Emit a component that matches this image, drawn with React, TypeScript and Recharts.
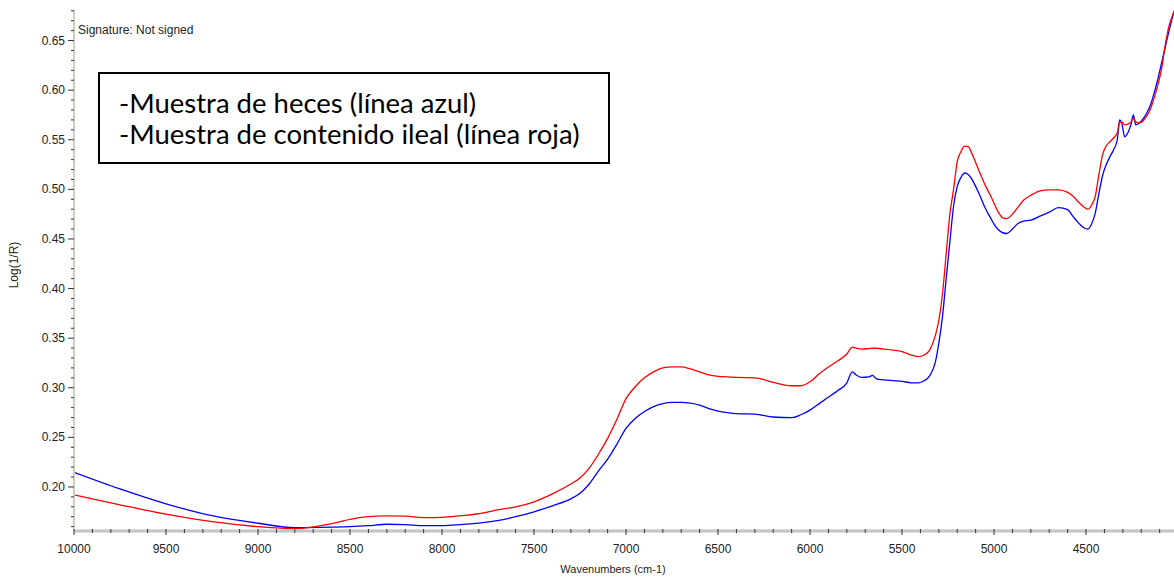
import React from "react";
import { LineChart, Line, XAxis, YAxis } from "recharts";

// wavenumbers (cm-1), shared by both spectra
const WAVENUMBERS = [
    10000, 9750, 9500, 9250, 9000, 8800, 8600, 8500, 8400, 8300, 8200, 8100, 8000, 7900, 7800, 7700, 7600,
    7500, 7400, 7300, 7250, 7200, 7150, 7100, 7050, 7000, 6950, 6900, 6850, 6800, 6750, 6700, 6650, 6600,
    6550, 6500, 6450, 6400, 6300, 6200, 6100, 6050, 6000, 5950, 5900, 5850, 5800, 5770, 5750, 5720, 5680,
    5660, 5640, 5600, 5550, 5500, 5450, 5410, 5380, 5350, 5320, 5300, 5280, 5260, 5240, 5220, 5200, 5180,
    5160, 5140, 5120, 5100, 5080, 5050, 5020, 5000, 4980, 4950, 4930, 4900, 4870, 4840, 4800, 4750, 4700,
    4650, 4600, 4570, 4540, 4510, 4490, 4470, 4450, 4430, 4410, 4390, 4370, 4350, 4330, 4318, 4305, 4290,
    4270, 4255, 4243, 4230, 4210, 4190, 4170, 4150, 4130, 4110, 4090, 4070, 4050, 4030, 4022,
];

// Muestra de heces (línea azul)
const HECES = [
    0.2148, 0.198, 0.183, 0.171, 0.1634, 0.159, 0.1595, 0.16, 0.161, 0.1624, 0.162, 0.161, 0.161, 0.162, 0.1635, 0.166, 0.17,
    0.175, 0.181, 0.188, 0.1936, 0.203, 0.216, 0.228, 0.243, 0.259, 0.269, 0.276, 0.281, 0.284, 0.2853, 0.2853, 0.2845, 0.2825,
    0.279, 0.2765, 0.275, 0.274, 0.2735, 0.2705, 0.2698, 0.2728, 0.2775, 0.284, 0.2905, 0.297, 0.305, 0.316, 0.313, 0.3105, 0.311,
    0.3125, 0.309, 0.308, 0.3072, 0.3065, 0.305, 0.305, 0.307, 0.312, 0.325, 0.345, 0.372, 0.41, 0.447, 0.483, 0.503, 0.512,
    0.5165, 0.515, 0.51, 0.503, 0.495, 0.482, 0.4715, 0.465, 0.46, 0.456, 0.4555, 0.46, 0.4655, 0.468, 0.469, 0.473, 0.477,
    0.4815, 0.4795, 0.4725, 0.466, 0.461, 0.46, 0.465, 0.476, 0.496, 0.514, 0.525, 0.533, 0.54, 0.55, 0.57, 0.566, 0.553,
    0.558, 0.566, 0.575, 0.565, 0.567, 0.571, 0.577, 0.585, 0.597, 0.611, 0.627, 0.643, 0.659, 0.674, 0.68,
];

// Muestra de contenido ileal (línea roja)
const ILEAL = [
    0.192, 0.182, 0.1725, 0.165, 0.16, 0.158, 0.163, 0.1674, 0.17, 0.1708, 0.1705, 0.169, 0.1694, 0.171, 0.173, 0.1768, 0.18,
    0.185, 0.193, 0.203, 0.209, 0.219, 0.233, 0.249, 0.268, 0.289, 0.301, 0.31, 0.316, 0.32, 0.321, 0.321, 0.319, 0.316,
    0.313, 0.3115, 0.311, 0.3105, 0.31, 0.3055, 0.302, 0.302, 0.306, 0.314, 0.321, 0.327, 0.334, 0.341, 0.34, 0.339, 0.3395,
    0.3398, 0.3398, 0.339, 0.338, 0.3365, 0.333, 0.3313, 0.333, 0.338, 0.352, 0.368, 0.395, 0.435, 0.475, 0.5, 0.528, 0.538,
    0.5435, 0.543, 0.536, 0.527, 0.518, 0.505, 0.494, 0.486, 0.478, 0.471, 0.4705, 0.475, 0.482, 0.489, 0.494, 0.4985, 0.4995,
    0.4995, 0.497, 0.493, 0.487, 0.482, 0.48, 0.484, 0.493, 0.515, 0.535, 0.544, 0.548, 0.552, 0.557, 0.567, 0.568, 0.565,
    0.566, 0.568, 0.5716, 0.568, 0.567, 0.569, 0.574, 0.581, 0.592, 0.605, 0.621, 0.645, 0.664, 0.675, 0.679,
];

const X_MAJOR_TICKS = [10000, 9500, 9000, 8500, 8000, 7500, 7000, 6500, 6000, 5500, 5000, 4500];
const Y_MAJOR_TICKS = [0.2, 0.25, 0.3, 0.35, 0.4, 0.45, 0.5, 0.55, 0.6, 0.65];

const X_DOMAIN = [4022, 10000];
const Y_DOMAIN = [0.1556, 0.6808];

// minor ticks every 100 cm-1 and every 0.01
const xTicks: number[] = [];
for (let w = 10000; w > X_DOMAIN[0]; w -= 100) xTicks.push(w);
const yTicks: number[] = [];
for (let k = 16; k <= 68; k++) yTicks.push(k / 100);

const data = WAVENUMBERS.map((w, i) => ({
    w,
    heces: HECES[i],
    ileal: ILEAL[i],
}));

const sans = "Liberation Sans, Arial, sans-serif";
const tickFont = {fontFamily: sans, fontSize: 12, fill: "#222"};

const XTick = (props: any) => {
    const {x, y, payload} = props;
    const major = X_MAJOR_TICKS.includes(payload.value);
    return (
        <g>
            <line x1={x} x2={x} y1={y - 2} y2={y + (major ? 4 : 2)} stroke="#333"/>
            {major && (
                <text x={x} y={y + 22} textAnchor="middle" {...tickFont}>{payload.value}</text>
            )}
        </g>
    );
};

const YTick = (props: any) => {
    const {x, y, payload} = props;
    const major = Y_MAJOR_TICKS.some((t) => Math.abs(t - payload.value) < 1e-6);
    return (
        <g>
            <line x1={x - (major ? 6 : 3)} x2={x} y1={y} y2={y} stroke="#333"/>
            {major && (
                <text x={x - 9} y={y + 4} textAnchor="end" {...tickFont}>{payload.value.toFixed(2)}</text>
            )}
        </g>
    );
};

export default function App() {
    return (
        <div style={{position: "absolute", left: 0, top: 0, width: 1174, height: 580, background: "#fff"}}>
            <LineChart width={1174} height={580} data={data} margin={{top: 10, right: 0, bottom: 0, left: 0}}>
                <XAxis dataKey="w" type="number" domain={X_DOMAIN} reversed allowDataOverflow
                       ticks={xTicks} interval={0} tickSize={0} tickMargin={0} tickLine={false}
                       tick={<XTick/>} height={49}
                       axisLine={{stroke: "#c4c4c4", strokeWidth: 3}}/>
                <YAxis type="number" domain={Y_DOMAIN} allowDataOverflow ticks={yTicks} interval={0}
                       tickSize={0} tickMargin={0} tickLine={false} tick={<YTick/>} width={74}
                       axisLine={{stroke: "#d0ccc4", strokeWidth: 2}}/>
                <Line type="monotone" dataKey="heces" stroke="#0000ff" strokeWidth={1.3} dot={false}
                      isAnimationActive={false}/>
                <Line type="monotone" dataKey="ileal" stroke="#ff0000" strokeWidth={1.3} dot={false}
                      isAnimationActive={false}/>
            </LineChart>

            <div style={{
                position: "absolute", left: 78, top: 23, fontFamily: sans,
                fontSize: 12, color: "#222", whiteSpace: "nowrap"
            }}>
                Signature: Not signed
            </div>

            <div style={{position: "absolute", left: 14, top: 265, width: 0, height: 0}}>
                <div style={{
                    position: "absolute", left: 0, top: 0, transform: "translate(-50%, -50%) rotate(-90deg)",
                    fontFamily: sans, fontSize: 12, color: "#222",
                    whiteSpace: "nowrap", transformOrigin: "center"
                }}>
                    Log(1/R)
                </div>
            </div>

            <div style={{
                position: "absolute", left: 0, width: 1226, top: 563, textAlign: "center",
                fontFamily: sans, fontSize: 11, color: "#222"
            }}>
                Wavenumbers (cm-1)
            </div>

            <div style={{
                position: "absolute", left: 98, top: 72, width: 512, height: 92, boxSizing: "border-box",
                border: "2px solid #000", background: "#fff", fontFamily: "Lato, sans-serif", fontSize: 27.5,
                color: "#000", padding: "13px 0 0 19px", lineHeight: "31px", whiteSpace: "nowrap"
            }}>
                <div>-Muestra de heces (línea azul)</div>
                <div>-Muestra de contenido ileal (línea roja)</div>
            </div>
        </div>
    );
}
